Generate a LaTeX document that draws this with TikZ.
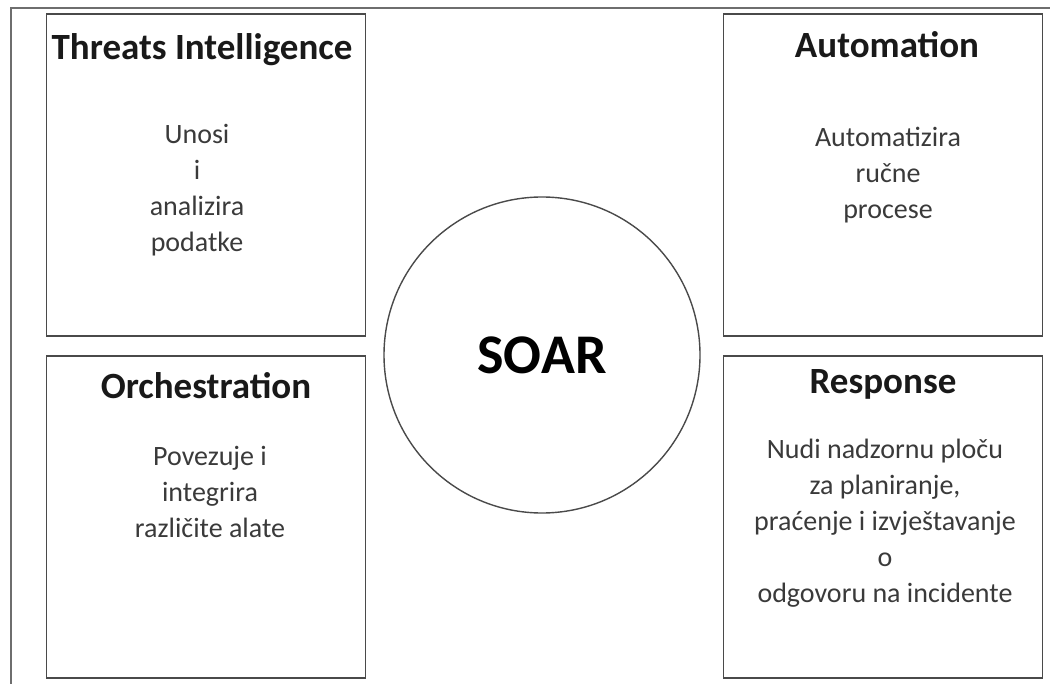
\documentclass[tikz,border=0pt]{standalone}
\usepackage{fontspec}
\setmainfont{Carlito}
\usepackage{xcolor}
\definecolor{edge}{HTML}{4A4A4A}
\definecolor{body}{HTML}{3A3A3A}

\begin{document}
\begin{tikzpicture}[x=1pt, y=-1pt,
    box/.style={draw=edge, line width=1.8pt, minimum width=319pt, minimum height=322pt, inner sep=0pt},
    title/.style={font=\fontsize{37}{42}\selectfont\bfseries, text=black!90},
    desc/.style={font=\fontsize{28}{36}\selectfont, text=body, align=center}]
    \useasboundingbox (0,0) rectangle (1062,684);

    % outer frame (top and left only)
    \draw[edge!80, line width=1.6pt] (11,684) -- (11,8) -- (1050,8);

    % the four boxes
    \node[box] (ti)   at (206,175) {};
    \node[box] (orch) at (206,517) {};
    \node[box] (auto) at (883,175) {};
    \node[box] (resp) at (883,517) {};

    % centre
    \node[circle, draw=edge, line width=1.4pt, minimum size=316pt,
          font=\fontsize{56}{60}\selectfont\bfseries] (soar) at (542,355) {SOAR};

    % titles
    \node[title] (tiT)   at (202,50)  {Threats Intelligence};
    \node[title] (orchT) at (206,386) {Orchestration};
    \node[title] (autoT) at (887,45)  {Automation};
    \node[title] (respT) at (883,384) {Response};

    % descriptions
    \node[desc] (tiD)   at (197,190) {Unosi\\i\\analizira\\podatke};
    \node[desc] (orchD) at (210,492) {Povezuje i\\integrira\\različite alate};
    \node[desc] (autoD) at (888,175) {Automatizira\\ručne\\procese};
    \node[desc] (respD) at (885,523) {Nudi nadzornu ploču\\za planiranje,\\praćenje i izvještavanje\\o\\odgovoru na incidente};
\end{tikzpicture}
\end{document}
